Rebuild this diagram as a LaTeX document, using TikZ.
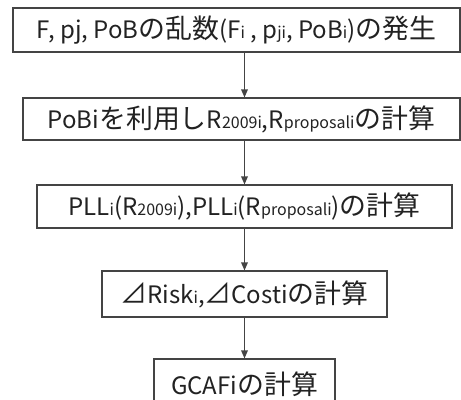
\documentclass[tikz,border=0pt]{standalone}
\usepackage{fontspec}
\setmainfont{Noto Sans CJK JP}
\newfontfamily\jpfont[Scale=1.12]{Noto Sans CJK JP}
\usepackage{tikz}
\usetikzlibrary{arrows.meta,positioning}
\definecolor{edge}{HTML}{444444}
\definecolor{ink}{HTML}{222222}
\newcommand{\sm}[1]{{\fontsize{12}{14}\selectfont #1}}
\newcommand{\jp}[1]{{\jpfont #1}}

\begin{document}
\begin{tikzpicture}[x=0.75pt, y=-0.75pt,
  every node/.style={font=\fontsize{18}{22}\selectfont, text=ink},
  stepbox/.style={draw=edge, line width=0.9pt, inner sep=0pt, minimum height=43*0.75pt},
  arr/.style={draw=edge, line width=0.9pt, -{Triangle[length=6pt,width=5pt]}}]
\useasboundingbox (0,0) rectangle (461,400);
\fill[white] (0,0) rectangle (461,400);
% flow steps
\node[stepbox, minimum width=447*0.75pt, minimum height=44*0.75pt] (gen) at (236.5,30)
  {F, pj, PoB\jp{の乱数}(F\sm{i} , p\sm{ji}, PoB\sm{i})\jp{の発生}};
\node[stepbox, minimum width=437*0.75pt, minimum height=42*0.75pt] (rcalc) at (241.5,119)
  {PoBi\jp{を利用し}R\sm{2009i},R\sm{proposali}\jp{の計算}};
\node[stepbox, minimum width=415*0.75pt] (pll) at (244.5,206.5)
  {PLL\sm{i}(R\sm{2009i}),PLL\sm{i}(R\sm{proposali})\jp{の計算}};
\node[stepbox, minimum width=285*0.75pt, minimum height=46*0.75pt] (delta) at (244.5,294)
  {\jp{⊿}Risk\sm{i},\jp{⊿}Costi\jp{の計算}};
\node[stepbox, minimum width=181*0.75pt, minimum height=50*0.75pt] (gcaf) at (244.5,384)
  {GCAFi\jp{の計算}};
% arrows
\draw[arr] (gen.south -| delta) -- (rcalc.north -| delta);
\draw[arr] (rcalc.south -| delta) -- (pll.north -| delta);
\draw[arr] (pll) -- (delta);
\draw[arr] (delta) -- (gcaf);
\end{tikzpicture}
\end{document}
